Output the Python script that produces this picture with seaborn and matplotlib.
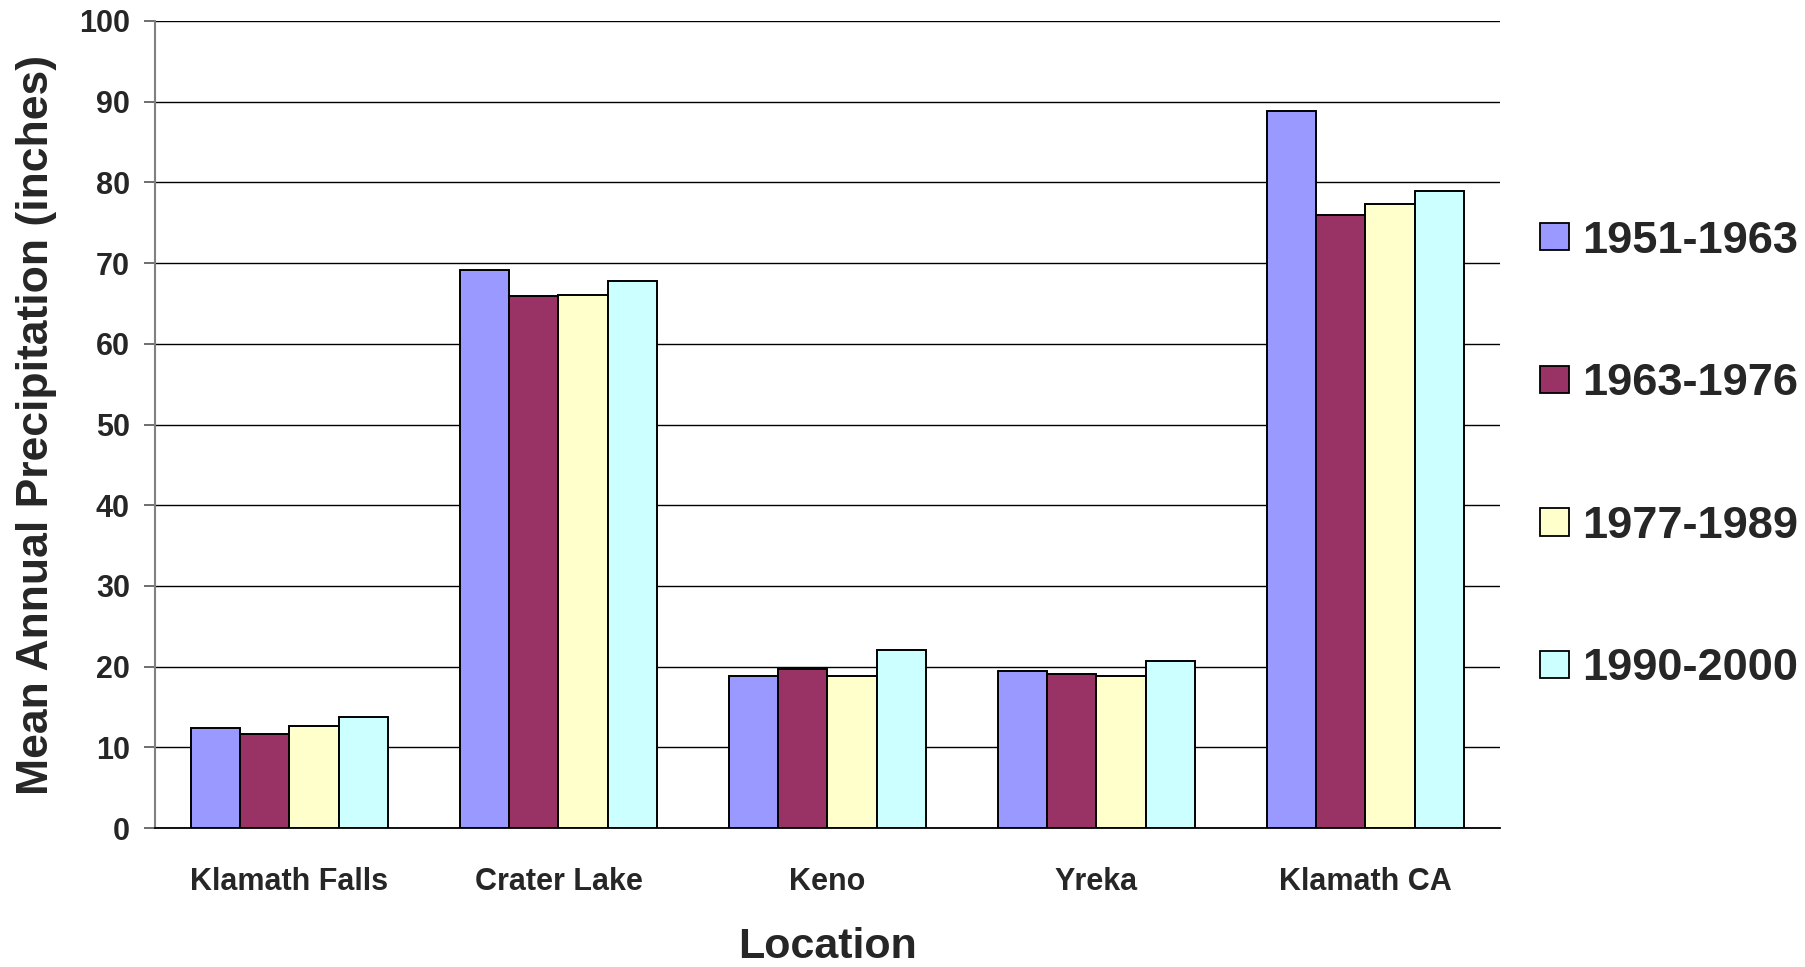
import pandas as pd
import matplotlib.pyplot as plt
import seaborn as sns
from matplotlib.patches import Patch

# Mean annual precipitation by location and period
locations = ["Klamath Falls", "Crater Lake", "Keno", "Yreka", "Klamath CA"]
periods = ["1951-1963", "1963-1976", "1977-1989", "1990-2000"]
p1951_1963 = [12.4, 69.2, 18.8, 19.4, 88.9]
p1963_1976 = [11.6, 65.9, 19.7, 19.1, 76.0]
p1977_1989 = [12.6, 66.0, 18.8, 18.8, 77.3]
p1990_2000 = [13.8, 67.8, 22.0, 20.7, 78.9]
colors = ["#9999FF", "#993366", "#FFFFCC", "#CCFFFF"]

rows = []
for period, vals in zip(periods, [p1951_1963, p1963_1976, p1977_1989, p1990_2000]):
    for loc, v in zip(locations, vals):
        rows.append({"Location": loc, "Period": period, "Precip": v})
df = pd.DataFrame(rows)

sns.set_style("white")
plt.rcParams['font.family'] = ['Liberation Sans', 'DejaVu Sans']
plt.rcParams['font.weight'] = 'bold'

fig = plt.figure(figsize=(18.06, 9.67), dpi=100)
ax = fig.add_axes([155 / 1806, 1 - 828 / 967, 1345 / 1806, 807 / 967])

sns.barplot(data=df, x="Location", y="Precip", hue="Period", order=locations,
            hue_order=periods, palette=colors, width=0.73, gap=0,
            edgecolor="black", linewidth=1.4, saturation=1, ax=ax, legend=False,
            zorder=3)

ax.set_xlim(-0.5, 4.5)
ax.set_ylim(0, 100)
ax.set_yticks(range(0, 101, 10))
ax.yaxis.grid(True, color="black", linewidth=1.0, zorder=0)
ax.xaxis.grid(False)
ax.set_axisbelow(True)

for s in ["top", "right"]:
    ax.spines[s].set_visible(False)
ax.spines["left"].set_color("#808080")
ax.spines["left"].set_linewidth(1.5)
ax.spines["bottom"].set_color("black")
ax.spines["bottom"].set_linewidth(1.3)

# tick marks at category boundaries, labels centred
ax.set_xticks([i - 0.5 for i in range(6)], minor=True)
ax.tick_params(axis="x", which="minor", length=10, width=1.2, color="#555555", direction="out")
ax.tick_params(axis="x", which="major", length=0, pad=28, labelsize=22)
ax.tick_params(axis="y", length=8, width=1.2, color="#555555", direction="out", pad=10, labelsize=22, left=True)
for lab in ax.get_xticklabels() + ax.get_yticklabels():
    lab.set_fontweight("bold")

ax.set_xlabel("Location", fontsize=31, fontweight="bold", labelpad=22)
ax.set_ylabel("Mean Annual Precipitation (inches)", fontsize=32, fontweight="bold", labelpad=16)

handles = [Patch(facecolor=c, edgecolor="black", linewidth=1.3) for c in colors]
fig.legend(handles, periods, loc="center left", bbox_to_anchor=(1540 / 1806, 1 - 455 / 967),
           frameon=False, prop={"weight": "bold", "size": 32.5},
           handlelength=0.64, handleheight=0.56, handletextpad=0.3, labelspacing=2.25,
           borderpad=0, borderaxespad=0)

fig.savefig("out.png", dpi=100)
